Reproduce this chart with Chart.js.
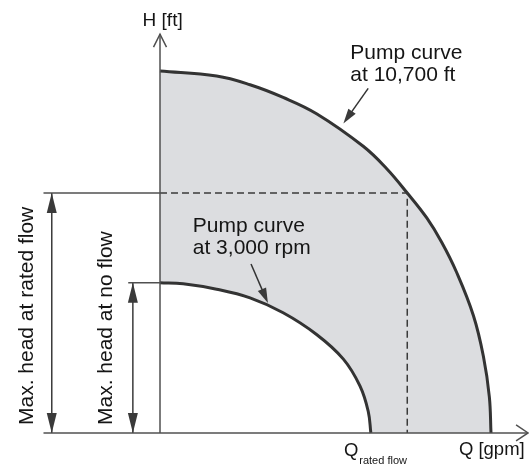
<!DOCTYPE html>
<html>
<head>
<meta charset="utf-8">
<script src="https://cdn.jsdelivr.net/npm/chart.js@4.4.0/dist/chart.umd.min.js"></script>
<style>
  html, body { margin: 0; padding: 0; background: #fff; }
  #wrap { width: 529px; height: 466px; position: relative; }
</style>
</head>
<body>
<div id="wrap"><canvas id="pumpChart"></canvas></div>
<script>
// Curves (Q and H in relative units, 100 = end/top of outer curve)
const OUTER_Q = [0, 17.1, 27.2, 37.2, 47.3, 61.4, 68.5, 74.7, 80.6, 85.1, 89.6, 94.7, 97.7, 99.5, 100];
const OUTER_H = [100, 98.6, 96.2, 92.7, 88.2, 79.2, 73.0, 66.3, 59.4, 52.7, 44.4, 32.4, 21.2, 10.0, 0];
const INNER_Q = [0, 7.0, 17.1, 27.2, 37.2, 47.3, 55.4, 60.4, 62.9, 63.7];
const INNER_H = [41.5, 41.2, 39.7, 37.3, 33.2, 27.2, 20.4, 13.0, 6.0, 0];

// rated point and shut-off head
const RATED_Q = 74.7;
const RATED_H = 66.3;
const NO_FLOW_H = 41.5;

// text
const AXIS_H = 'H [ft]';
const AXIS_Q = 'Q [gpm]';
const Q_RATED = ['Q', 'rated flow'];
const OUTER_LABEL = ['Pump curve', 'at 10,700 ft'];
const INNER_LABEL = ['Pump curve', 'at 3,000 rpm'];
const DIM_RATED = 'Max. head at rated flow';
const DIM_NOFLOW = 'Max. head at no flow';

const FONT = '"Liberation Sans", Arial, Helvetica, sans-serif';
const CURVE = '#333333';
const AXIS = '#505050';
const FILL = '#dcdde0';

const toPts = (qs, hs) => qs.map((q, i) => ({ x: q, y: hs[i] }));

function seg(points, extra) {
  return Object.assign({
    data: points,
    showLine: true,
    borderColor: AXIS,
    borderWidth: 1.5,
    pointRadius: 0,
    tension: 0,
    fill: false,
    order: 1
  }, extra || {});
}

function arrowHead(ctx, tx, ty, fx, fy, len, half) {
  const a = Math.atan2(ty - fy, tx - fx);
  ctx.beginPath();
  ctx.moveTo(tx, ty);
  ctx.lineTo(tx - len * Math.cos(a) + half * Math.sin(a), ty - len * Math.sin(a) - half * Math.cos(a));
  ctx.lineTo(tx - len * Math.cos(a) - half * Math.sin(a), ty - len * Math.sin(a) + half * Math.cos(a));
  ctx.closePath();
  ctx.fill();
}

function chevron(ctx, tx, ty, fx, fy, len, half) {
  const a = Math.atan2(ty - fy, tx - fx);
  ctx.beginPath();
  ctx.moveTo(tx - len * Math.cos(a) + half * Math.sin(a), ty - len * Math.sin(a) - half * Math.cos(a));
  ctx.lineTo(tx, ty);
  ctx.lineTo(tx - len * Math.cos(a) - half * Math.sin(a), ty - len * Math.sin(a) + half * Math.cos(a));
  ctx.stroke();
}

const overlay = {
  id: 'overlay',
  afterDatasetsDraw(chart) {
    const { ctx, scales: { x, y } } = chart;
    const px = v => x.getPixelForValue(v);
    const py = v => y.getPixelForValue(v);
    ctx.save();

    // axis arrow tips
    ctx.strokeStyle = AXIS;
    ctx.lineWidth = 1.5;
    chevron(ctx, px(0), py(110.2), px(0), py(0), 13, 6.5);
    chevron(ctx, px(111.2), py(0), px(0), py(0), 12, 8);

    // dimension arrow heads
    ctx.fillStyle = '#3a3a3a';
    arrowHead(ctx, px(-32.7), py(RATED_H), px(-32.7), py(0), 20, 5);
    arrowHead(ctx, px(-32.7), py(0), px(-32.7), py(RATED_H), 20, 5);
    arrowHead(ctx, px(-8.2), py(NO_FLOW_H), px(-8.2), py(0), 20, 5);
    arrowHead(ctx, px(-8.2), py(0), px(-8.2), py(NO_FLOW_H), 20, 5);

    // label pointers
    ctx.strokeStyle = '#333';
    ctx.lineWidth = 1.5;
    const pointer = (q0, h0, q1, h1) => {
      const x0 = px(q0), y0 = py(h0), x1 = px(q1), y1 = py(h1);
      const a = Math.atan2(y1 - y0, x1 - x0);
      ctx.beginPath();
      ctx.moveTo(x0, y0);
      ctx.lineTo(x1 - 10 * Math.cos(a), y1 - 10 * Math.sin(a));
      ctx.stroke();
      arrowHead(ctx, x1, y1, x0, y0, 15, 4.5);
    };
    pointer(62.9, 95.2, 55.4, 85.5);
    pointer(27.5, 46.7, 32.6, 35.9);

    // texts
    ctx.fillStyle = '#151515';
    ctx.textBaseline = 'alphabetic';
    ctx.textAlign = 'left';
    ctx.font = '21px ' + FONT;
    ctx.fillText(OUTER_LABEL[0], px(57.5), py(103.2));
    ctx.fillText(OUTER_LABEL[1], px(57.5), py(97.3));
    ctx.fillText(INNER_LABEL[0], px(9.9), py(55.6));
    ctx.fillText(INNER_LABEL[1], px(9.9), py(49.4));

    ctx.font = '19px ' + FONT;
    ctx.textAlign = 'center';
    ctx.fillText(AXIS_H, px(0.8), py(112.4));

    ctx.textAlign = 'left';
    ctx.font = '18.5px ' + FONT;
    ctx.fillText(AXIS_Q, px(90.3), py(-6.2));
    ctx.fillText(Q_RATED[0], px(55.6), py(-6.3));
    ctx.font = '11px ' + FONT;
    ctx.fillText(Q_RATED[1], px(60.2), py(-8.6));

    ctx.font = '21px ' + FONT;
    const vertical = (text, q, h) => {
      ctx.save();
      ctx.translate(px(q), py(h));
      ctx.rotate(-Math.PI / 2);
      ctx.fillText(text, 0, 0);
      ctx.restore();
    };
    vertical(DIM_RATED, -38.3, 2.2);
    vertical(DIM_NOFLOW, -14.6, 2.2);

    ctx.restore();
  }
};

new Chart(document.getElementById('pumpChart'), {
  type: 'scatter',
  data: {
    datasets: [
      {
        label: 'Pump curve at 10,700 ft',
        data: toPts(OUTER_Q, OUTER_H),
        showLine: true,
        borderColor: CURVE,
        borderWidth: 3,
        backgroundColor: FILL,
        fill: 'origin',
        pointRadius: 0,
        tension: 0.4,
        order: 6
      },
      {
        label: 'Pump curve at 3,000 rpm',
        data: toPts(INNER_Q, INNER_H),
        showLine: true,
        borderColor: CURVE,
        borderWidth: 3,
        backgroundColor: '#ffffff',
        fill: 'origin',
        pointRadius: 0,
        tension: 0.4,
        order: 5
      },
      seg([{ x: 0, y: RATED_H }, { x: RATED_Q, y: RATED_H }, { x: RATED_Q, y: 0 }],
          { borderColor: '#3a3a3a', borderDash: [7, 4], order: 4 }),
      // axes
      seg([{ x: -35.2, y: 0 }, { x: 111.2, y: 0 }]),
      seg([{ x: 0, y: 0 }, { x: 0, y: 110.2 }]),
      // extension lines
      seg([{ x: -35.2, y: RATED_H }, { x: 0, y: RATED_H }]),
      seg([{ x: -9.6, y: NO_FLOW_H }, { x: 0, y: NO_FLOW_H }]),
      // dimension lines
      seg([{ x: -32.7, y: 0 }, { x: -32.7, y: RATED_H }], { borderColor: '#3a3a3a' }),
      seg([{ x: -8.2, y: 0 }, { x: -8.2, y: NO_FLOW_H }], { borderColor: '#3a3a3a' })
    ]
  },
  options: {
    responsive: true,
    maintainAspectRatio: false,
    animation: false,
    layout: { padding: 0 },
    plugins: {
      legend: { display: false },
      tooltip: { enabled: false }
    },
    scales: {
      x: { type: 'linear', display: false, min: -48.34, max: 111.48 },
      y: { type: 'linear', display: false, min: -9.12, max: 119.61 }
    }
  },
  plugins: [overlay]
});
</script>
</body>
</html>
